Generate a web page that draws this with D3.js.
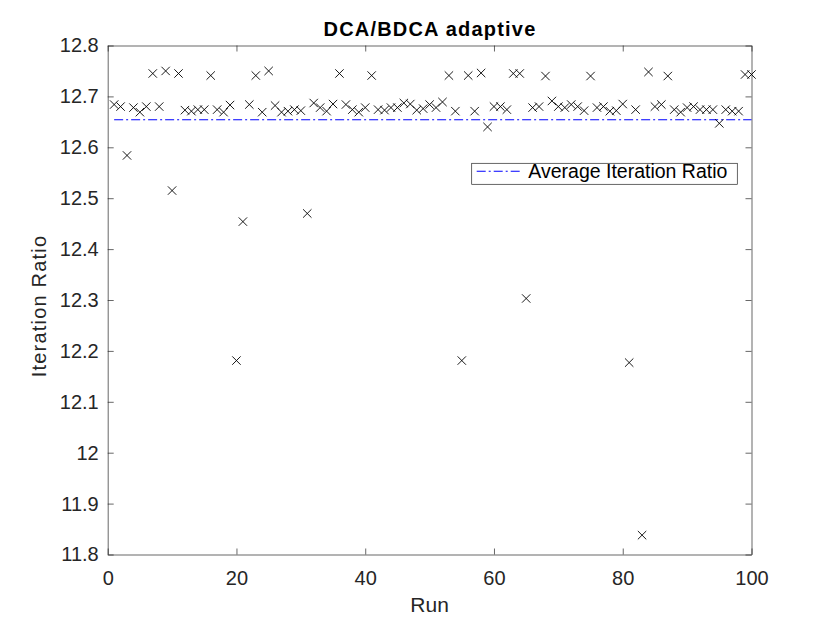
<!DOCTYPE html>
<html lang="en">
<head>
  <meta charset="UTF-8" />
  <title>DCA/BDCA adaptive</title>
  <style>
    body { margin: 0; background: #fff; }
    svg { font-family: "Liberation Sans", Arial, sans-serif; }
    .axis path, .axis line { stroke: #262626; stroke-width: 0.7px; }
    .axis text { fill: #262626; font-size: 20px; }
    .marker { stroke: #000; stroke-width: 0.9px; }
    .avg-line { fill: none; stroke: #0000ff; stroke-width: 1.1px; stroke-dasharray: 9, 3, 2, 3; }
  </style>
</head>
<body>
  <script src="https://cdn.jsdelivr.net/npm/d3@7"></script>
  <script>
    // run numbers 1..100
    var runs = d3.range(1, 101);

    // iteration ratio for each run
    var ratios = [
      12.684, 12.680, 12.584, 12.678, 12.669, 12.680, 12.745, 12.680, 12.750, 12.515,
      12.745, 12.673, 12.671, 12.674, 12.674, 12.741, 12.674, 12.669, 12.683, 12.181,
      12.454, 12.684, 12.741, 12.669, 12.750, 12.682, 12.669, 12.671, 12.674, 12.672,
      12.470, 12.687, 12.678, 12.671, 12.685, 12.745, 12.684, 12.674, 12.669, 12.678,
      12.741, 12.674, 12.673, 12.678, 12.678, 12.687, 12.685, 12.673, 12.676, 12.684,
      12.678, 12.689, 12.741, 12.671, 12.181, 12.741, 12.671, 12.746, 12.640, 12.680,
      12.680, 12.674, 12.745, 12.745, 12.303, 12.678, 12.680, 12.740, 12.691, 12.680,
      12.678, 12.684, 12.680, 12.672, 12.740, 12.678, 12.680, 12.671, 12.672, 12.685,
      12.177, 12.674, 11.838, 12.748, 12.680, 12.684, 12.740, 12.674, 12.669, 12.678,
      12.680, 12.674, 12.674, 12.674, 12.647, 12.674, 12.671, 12.671, 12.743, 12.743
    ];

    var averageRatio = 12.654;

    var xTicks = [0, 20, 40, 60, 80, 100];
    var yTicks = [11.8, 11.9, 12, 12.1, 12.2, 12.3, 12.4, 12.5, 12.6, 12.7, 12.8];

    var w = 830;
    var h = 623;
    var margin = { top: 45.5, right: 78.5, bottom: 68.5, left: 107.7 };
    var iw = w - margin.left - margin.right;
    var ih = h - margin.top - margin.bottom;

    var svg = d3.select("body").append("svg")
      .attr("width", w)
      .attr("height", h);

    var xScale = d3.scaleLinear().domain([0, 100]).range([0, iw]);
    var yScale = d3.scaleLinear().domain([11.8, 12.8]).range([ih, 0]);

    var g = svg.append("g")
      .attr("transform", "translate(" + margin.left + "," + margin.top + ")");

    // axes (box on, ticks inward)
    var fmt = function(d) { return d3.format("~g")(d); };

    g.append("g").attr("class", "axis")
      .attr("transform", "translate(0," + ih + ")")
      .call(d3.axisBottom(xScale).tickValues(xTicks).tickSizeInner(-6).tickSizeOuter(0).tickPadding(16).tickFormat(fmt));

    g.append("g").attr("class", "axis")
      .call(d3.axisTop(xScale).tickValues(xTicks).tickSizeInner(-6).tickSizeOuter(0).tickFormat(""));

    g.append("g").attr("class", "axis")
      .call(d3.axisLeft(yScale).tickValues(yTicks).tickSizeInner(-6).tickSizeOuter(0).tickPadding(9).tickFormat(fmt));

    g.append("g").attr("class", "axis")
      .attr("transform", "translate(" + iw + ",0)")
      .call(d3.axisRight(yScale).tickValues(yTicks).tickSizeInner(-6).tickSizeOuter(0).tickFormat(""));

    // average line
    g.append("line")
      .attr("class", "avg-line")
      .attr("x1", xScale(1))
      .attr("x2", xScale(100))
      .attr("y1", yScale(averageRatio))
      .attr("y2", yScale(averageRatio));

    // x markers
    var s = 4.2;
    g.selectAll(".marker")
      .data(ratios)
      .enter()
      .append("path")
      .attr("class", "marker")
      .attr("d", function(d, i) {
        var cx = xScale(runs[i]);
        var cy = yScale(d);
        return "M" + (cx - s) + "," + (cy - s) + "L" + (cx + s) + "," + (cy + s) +
               "M" + (cx - s) + "," + (cy + s) + "L" + (cx + s) + "," + (cy - s);
      });

    // title
    svg.append("text")
      .attr("x", 430)
      .attr("y", 35.7)
      .attr("text-anchor", "middle")
      .style("font-size", "20px")
      .style("font-weight", "bold")
      .style("letter-spacing", "1.2px")
      .style("fill", "#000")
      .text("DCA/BDCA adaptive");

    // axis labels
    svg.append("text")
      .attr("x", margin.left + iw / 2)
      .attr("y", 612)
      .attr("text-anchor", "middle")
      .style("font-size", "21px")
      .style("fill", "#262626")
      .text("Run");

    svg.append("text")
      .attr("transform", "translate(46,306) rotate(-90)")
      .attr("text-anchor", "middle")
      .style("font-size", "20px")
      .style("letter-spacing", "1.2px")
      .style("fill", "#262626")
      .text("Iteration Ratio");

    // legend
    var legend = svg.append("g").attr("transform", "translate(471.7,163.3)");
    legend.append("rect")
      .attr("width", 265.6)
      .attr("height", 21)
      .attr("fill", "#fff")
      .attr("stroke", "#262626")
      .attr("stroke-width", 0.7);
    legend.append("line")
      .attr("class", "avg-line")
      .attr("x1", 5)
      .attr("x2", 49)
      .attr("y1", 8)
      .attr("y2", 8);
    legend.append("text")
      .attr("x", 56.6)
      .attr("y", 14.8)
      .style("font-size", "19.5px")
      .style("fill", "#000")
      .text("Average Iteration Ratio");
  </script>
</body>
</html>
